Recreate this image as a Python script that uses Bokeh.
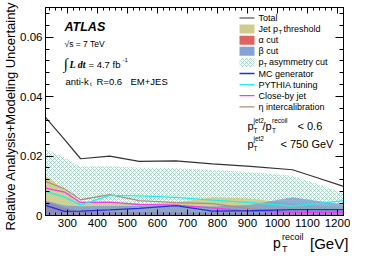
import math
from bokeh.plotting import figure
from bokeh.layouts import column
from bokeh.models import (Label, LinearAxis, SingleIntervalTicker, Range1d, Title, Div,
                          CustomJSTickFormatter, BoxAnnotation, ColumnDataSource)
from bokeh.embed import file_html
from bokeh.resources import INLINE

# ---------------- data ----------------
pt = [227, 290, 344, 441, 539, 661, 783, 910, 1050, 1130, 1220]
total = [0.0330, 0.0256, 0.0191, 0.0200, 0.0182, 0.0184, 0.0174, 0.0165, 0.0154, 0.0128, 0.0098]
asym_cut = [0.0224, 0.0195, 0.0165, 0.0166, 0.0161, 0.0160, 0.0153, 0.0146, 0.0134, 0.0108, 0.0074]
jet_thr = [0.0134, 0.0088, 0.0044, 0.0041, 0.0038, 0.0043, 0.0062, 0.0057, 0.0040, 0.0033, 0.0028]
alpha_cut = [0.0048, 0.0026, 0.0014, 0.0012, 0.0011, 0.0010, 0.0010, 0.0009, 0.0008, 0.0008, 0.0008]
beta_cut = [0.0050, 0.0034, 0.0031, 0.0032, 0.0032, 0.0033, 0.0030, 0.0036, 0.0061, 0.0050, 0.0038]
mc_gen = [0.0034, 0.0014, 0.0015, 0.0019, 0.0024, 0.0033, 0.0015, 0.0016, 0.0020, 0.0020, 0.0020]
pythia = [0.0081, 0.0062, 0.0036, 0.0068, 0.0066, 0.0061, 0.0052, 0.0043, 0.0032, 0.0040, 0.0050]
closeby = [0.0092, 0.0079, 0.0044, 0.0045, 0.0037, 0.0035, 0.0026, 0.0015, 0.0011, 0.0011, 0.0011]
eta_ic = [0.0115, 0.0090, 0.0053, 0.0070, 0.0050, 0.0043, 0.0040, 0.0022, 0.0009, 0.0008, 0.0008]

x_ticks = [300, 400, 500, 600, 700, 800, 900, 1000, 1100, 1200]
y_ticks = [0, 0.02, 0.04, 0.06]

# ---------------- layout ----------------
W, H = 350, 232
FL, FR, FT, FB = 45, 343, 7, 215          # frame edges in figure pixels
X0, X1, Y0, Y1 = 227, 1220, 0.0, 0.07
FONT = "Liberation Sans"

def dx(ix):   # page-pixel x -> data x
    return X0 + (ix - 8 - FL) * (X1 - X0) / (FR - FL)

def dy(iy):   # page-pixel y -> data y
    return Y0 + (FB - (iy - 8)) * (Y1 - Y0) / (FB - FT)

fig = figure(width=W, height=H, output_backend="svg", toolbar_location=None,
             x_range=Range1d(X0, X1), y_range=Range1d(Y0, Y1),
             min_border_left=FL, min_border_right=W - FR,
             min_border_top=FT, min_border_bottom=H - FB,
             x_axis_type=None, y_axis_type=None)
fig.background_fill_color = "white"
fig.border_fill_color = "white"
fig.outline_line_color = "black"
fig.xgrid.visible = False
fig.ygrid.visible = False

blank = CustomJSTickFormatter(code="return '';")

def style_axis(ax, tin, tmin, labels=True, size="11.5px"):
    ax.axis_line_color = "black"
    ax.major_tick_line_color = "black"
    ax.minor_tick_line_color = "black"
    ax.major_tick_in = tin
    ax.major_tick_out = 0
    ax.minor_tick_in = tmin
    ax.minor_tick_out = 0
    ax.major_label_text_font = FONT
    ax.major_label_text_font_size = size
    ax.major_label_text_color = "black"
    ax.major_label_standoff = 3 if labels else 0
    if not labels:
        ax.formatter = blank

xt = SingleIntervalTicker(interval=100, num_minor_ticks=5)
yt = SingleIntervalTicker(interval=0.02, num_minor_ticks=5)
yfmt = CustomJSTickFormatter(code="return Math.abs(tick) < 1e-9 ? '0' : tick.toFixed(2);")

xb = LinearAxis(ticker=xt); style_axis(xb, 6, 3)
xa = LinearAxis(ticker=xt); style_axis(xa, 6, 3, labels=False)
yl = LinearAxis(ticker=yt, formatter=yfmt); style_axis(yl, 8, 4)
yr = LinearAxis(ticker=yt); style_axis(yr, 8, 4, labels=False)
fig.add_layout(xb, "below")
fig.add_layout(xa, "above")
fig.add_layout(yl, "left")
fig.add_layout(yr, "right")
fig.add_layout(Title(text="Relative Analysis+Modeling Uncertainty", align="left",
                     offset=-15, standoff=0, text_font=FONT, text_font_size="13px",
                     text_font_style="normal", text_color="black"), "left")

src = ColumnDataSource(dict(x=pt, total=total, asym=asym_cut, jet=jet_thr,
                            alpha=alpha_cut, beta=beta_cut, mc=mc_gen,
                            pythia=pythia, closeby=closeby, eta=eta_ic))

HATCH = dict(hatch_pattern="diagonal_cross", hatch_scale=4, hatch_weight=0.8,
             hatch_color="#6cc7a2", hatch_alpha=0.8)
OLIVE, RED, BLUE = "#cdc77f", "#d9534f", "#7698d2"
C_TOT, C_MC, C_PY, C_CB, C_ETA = "#333333", "#2a2ae0", "#22eeee", "#f23cf2", "#b08c7c"

fig.varea(x="x", y1=0, y2="asym", source=src, fill_alpha=0, **HATCH)
fig.varea(x="x", y1=0, y2="jet", source=src, fill_color=OLIVE, fill_alpha=0.8)
fig.varea(x="x", y1=0, y2="alpha", source=src, fill_color=RED, fill_alpha=0.85)
fig.varea(x="x", y1=0, y2="beta", source=src, fill_color=BLUE, fill_alpha=0.75)
fig.line(x="x", y="eta", source=src, line_color=C_ETA, line_width=1.3)
fig.line(x="x", y="closeby", source=src, line_color=C_CB, line_width=1.3)
fig.line(x="x", y="pythia", source=src, line_color=C_PY, line_width=1.3)
fig.line(x="x", y="mc", source=src, line_color=C_MC, line_width=1.3)
fig.line(x="x", y="total", source=src, line_color=C_TOT, line_width=1.2)

def lab(text, ix, iy, size, font=FONT, style="normal", align="left", angle=0.0):
    fig.add_layout(Label(x=dx(ix), y=dy(iy), text=text, text_font=font,
                         text_font_size=f"{size}px", text_font_style=style,
                         text_color="black", text_align=align,
                         text_baseline="middle", angle=angle))

# ---------------- legend (drawn by hand, ROOT style) ----------------
rows = [25.5 + 11.1 * k for k in range(9)]
SX0, SX1, TX = 247, 262, 266
LS = 9

def legend_line(color, iy, width=1.3):
    fig.segment(x0=[dx(SX0)], y0=[dy(iy)], x1=[dx(SX1)], y1=[dy(iy)],
                line_color=color, line_width=width)

def legend_box(iy, **kw):
    fig.add_layout(BoxAnnotation(left=dx(SX0), right=dx(SX1), top=dy(iy - 4.5),
                                 bottom=dy(iy + 4.5), line_alpha=0, **kw))

legend_line(C_TOT, rows[0], 1.2)
lab("Total", TX, rows[0], LS)
legend_box(rows[1], fill_color=OLIVE, fill_alpha=0.9)
lab("Jet p", TX, rows[1], LS); lab("T", 286, rows[1] + 2.5, 6); lab("threshold", 291, rows[1], LS)
legend_box(rows[2], fill_color=RED, fill_alpha=0.9)
lab("α cut", TX, rows[2], LS)
legend_box(rows[3], fill_color=BLUE, fill_alpha=0.9)
lab("β cut", TX, rows[3], LS)
legend_box(rows[4], fill_alpha=0, **HATCH)
lab("p", TX, rows[4], LS); lab("T", 271, rows[4] + 2.5, 6); lab("asymmetry cut", 276.5, rows[4], LS)
legend_line(C_MC, rows[5]); lab("MC generator", TX, rows[5], LS)
legend_line(C_PY, rows[6]); lab("PYTHIA tuning", TX, rows[6], LS)
legend_line(C_CB, rows[7]); lab("Close-by jet", TX, rows[7], LS)
legend_line(C_ETA, rows[8]); lab("η intercalibration", TX, rows[8], LS)

# ---------------- top-left labels ----------------
lab("ATLAS", 72, 34, 12.5, style="bold italic")
lab("√s = 7 TeV", 72, 51.5, 8.5)
lab("∫", 71, 71, 15, font="Liberation Serif")
lab("L dt", 77, 71.5, 10, font="Liberation Serif", style="bold italic")
lab("= 4.7 fb", 96, 71.5, 9.5)
lab("-1", 130, 67.5, 6)
lab("anti-k", 73, 88.5, 9.5)
lab("t", 97.5, 91.5, 6)
lab("R=0.6", 104, 88.5, 9.5)
lab("EM+JES", 138, 88.5, 9.5)

# ---------------- cut labels ----------------
lab("p", 255, 133, 11); lab("jet2", 261, 127.5, 6.5); lab("T", 261, 138, 6.5)
lab("/p", 270, 133, 11); lab("recoil", 279.5, 127.5, 6.5); lab("T", 279.5, 138, 6.5)
lab("< 0.6", 305, 133, 11)
lab("p", 255, 151, 11); lab("jet2", 261, 145.5, 6.5); lab("T", 261, 156, 6.5)
lab("< 750 GeV", 288, 151, 11)

# ---------------- x axis title (below the figure) ----------------
xtitle_html = (
    '<div style="position:relative;width:350px;height:14px;'
    "font-family:'Liberation Sans',sans-serif;color:#000;overflow:visible;\">"
    '<span style="position:absolute;left:268px;top:-1px;font-size:14px;line-height:14px;">p</span>'
    '<span style="position:absolute;left:277px;top:-4px;font-size:9px;line-height:9px;">recoil</span>'
    '<span style="position:absolute;left:277px;top:8px;font-size:9px;line-height:9px;">T</span>'
    '<span style="position:absolute;left:305px;top:-1px;font-size:15px;line-height:15px;">[GeV]</span>'
    '</div>')
xtitle = Div(text=xtitle_html, width=W, height=14)

p = column(fig, xtitle)
open("out.html", "w").write(file_html(p, INLINE))
